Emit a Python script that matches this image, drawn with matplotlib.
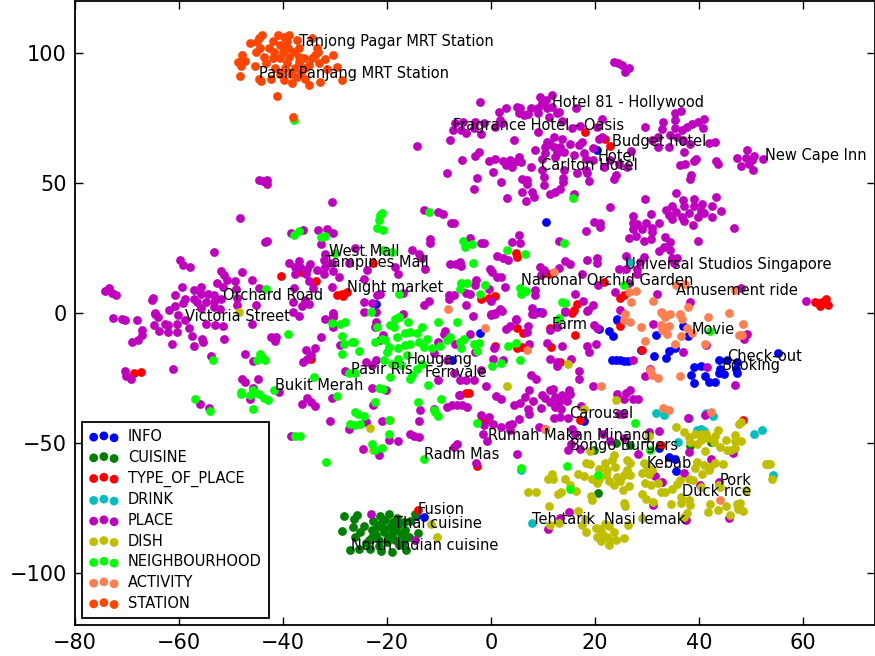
import matplotlib
matplotlib.use('Agg')
import matplotlib.pyplot as plt

# points, one list per entity type
info = [(-2.2,-7.8),(9.2,0.4),(20.7,-6.3),(22.6,-7),(23.4,-9),(24.2,-2.8),(36.9,-5),(37.8,-8.8),(31.8,-8.7),(28.9,-14.1),
    (31.4,-16.7),(34.2,-14.7),(35.3,-13.7),(33.6,-17.3),(23.3,-18.3),(24.1,-18.3),(24.9,-18.3),(25.5,-18.4),(26.3,-18.5),
    (39,-20.8),(40.3,-20.5),(38.5,-23.8),(39,-27),(41.1,-24.1),(41.9,-26.5),(43.1,-26.5),(43.8,-18.2),(44.1,-21.4),(43.8,-23.3),
    (44.9,-23.6),(45.4,-18.2),(47.3,-18.8),(47.1,-21.4),(47.4,-23.1),(55.1,-15.4),(17.9,-41.5),(32.4,-51.8),(34.3,-55.4),
    (35.3,-56),(35.6,-60.9),(-7.5,-18),(-22.2,3.5),(-14.4,-78.2),(-12.8,-78.3),(10.6,35),(20.4,62.6),(24.2,-2.2)]

cuisine = [(-28.2,-78.2),(-26.4,-79.1),(-25.8,-77.8),(-26.6,-82.3),(-28.7,-84),(-27.1,-91),(-24.4,-81.9),(-25.1,-84.2),
    (-26.1,-86.2),(-22.6,-80),(-21.3,-78.2),(-19.7,-77.2),(-18.1,-78.7),(-22.9,-83.6),(-21.3,-81),(-20.3,-79.7),(-19.4,-82.3),
    (-17.8,-81.7),(-16.8,-80.4),(-15.5,-80),(-22.2,-85.5),(-20.6,-84.2),(-19,-85.1),(-17.4,-84.9),(-16.5,-83.6),(-14,-84.6),
    (-23.5,-87.4),(-21.6,-87.4),(-20,-88),(-18.4,-87.4),(-16.8,-86.8),(-25.4,-90.6),(-23.2,-90.6),(-21.1,-91.5),(-19,-91.8),
    (-16.3,-91.3),(-17.7,-89.4),(-14.6,-77.4),(20.5,-69.2),(24,-49.9),(26.8,-50.9),(19.9,-52.8),(38.3,-51.3),(42.4,-49.7),
    (-22,-82.5),(-20.8,-82.8),(-18.8,-80.5),(-19.8,-86.5),(-18.2,-83.5),(-21.5,-89.5),(-24,-88.5),(-22.8,-86.2),(-17,-88.5),(-15.8,-86)]

type_of_place = [(-40.3,14.1),(-36.5,15.8),(-33.7,12.3),(-22.6,19.2),(-29.6,7),(-28.7,7.2),(-28.4,6.4),(-27.6,8.1),
    (18.1,69.5),(21.9,66.7),(22.9,64.2),(4.9,23.2),(5,21.3),(11.1,15.1),(-1.9,5.3),(-0.4,5.9),(0.8,6.3),(24.9,5.8),(25.6,6.8),
    (16.5,3.3),(15.9,1),(15.6,0.1),(62.4,4.2),(63,3.8),(63.2,2.6),(64.5,5.3),(64.9,2.9),(63.7,4.2),(-68.7,-23.3),(-67.4,-22.9),
    (-34.7,-17.9),(-5.9,-31.4),(-4.9,-31),(-4.3,-31),(-14,-75.9),(5,-6),(6.2,-7.7),(11.4,-6),(16.2,-8.7),(24.9,-5),(0.8,-12.7),
    (5,-13.7),(5.9,-13.3),(11.6,-13),(13.2,-18.8),(29,-14.1),(-1.7,-40.6),(-0.9,-41),(10.3,-44.7),(17.2,-41.3),(-2.7,-59),
    (32.7,-50.9),(48.5,-41.3),(21.7,12)]

drink = [(26.8,19.6),(31.8,-38.5),(33.2,-39.4),(41.3,-38.5),(42.6,-39.8),(39.6,-44.9),(40.3,-44.5),(40.9,-45.4),(36,-49.7),
    (50.6,-46.5),(52.1,-44.9),(54.2,-62.4),(7.8,-80.8),(5.8,-60.3),(38,-40.6)]

place = [(-14.2,64.1),(-7.9,66.4),(-7.4,70.3),(-7,72.8),(-5.4,73.5),(-5.7,70.3),(-4.9,69),(-5.6,58.7),(-8.4,53.8),
    (-44.7,50.9),(-43.8,50.6),(-43.1,51),(-43.1,49.5),(-30.6,42.8),(-48.3,36.5),(-12.9,39.7),(-10.1,38.6),(-9.2,38),(-7.6,34.4),
    (-7.1,34.7),(-38.5,30.6),(-36.1,31.7),(-33.2,31.7),(-31.6,32.3),(-30.4,30.6),(-43.4,27.4),(-43,27.6),(-32.6,26.4),(-11.7,28.5),
    (-11.7,26.7),(-53.3,23.3),(-59.8,20.3),(-59.3,18.3),(-57.8,17.7),(-26.2,25),(-31.9,22.8),(-15.2,24.2),(-13.8,22.8),(-13.3,20.9),
    (-7.8,18.6),(-6.7,18.7),(-5.9,19.6),(-5.7,18.1),(-38.8,19),(-36.9,20),(-37.7,17.7),(-36.7,17.7),(-34.8,18.6),(-35.4,17),
    (-37.7,15.1),(-35.5,15.1),(-33.5,16.3),(-32.2,15.1),(-31.9,17.7),(-30.6,19),(-30.3,16.2),(-29.3,13.6),(-35,12.3),(-34.3,9.6),
    (-32.2,20.3),(-27.4,19),(-23.9,16.4),(-24.5,13.2),(-18.5,17.7),(-17.9,15.1),(-12.6,16.8),(-51.9,15.9),(-51.4,14.5),(-50.8,12.6),
    (-49.2,12.3),(-52.6,11.3),(-51.5,10),(-47.9,15.6),(-46,12.6),(-44.7,9.5),(-74.2,8.3),(-73.5,9.7),(-72.8,7.7),(-72.2,7),
    (-65,5.9),(-65.1,5.1),(-60.7,6.9),(-59.4,10.1),(-57.2,8.7),(-55.7,10.1),(-58.8,5.5),(-59.3,3.8),(-57.2,5.5),(-55.7,7.4),
    (-54.4,7.2),(-53.3,6.8),(-56.5,4.2),(-54.9,4.2),(-53.3,4.2),(-51.9,5.5),(-49,9),(-48.9,5.8),(-60.8,2.6),(-61.9,1),(-55.7,1.7),
    (-53.3,2.3),(-52.1,1.3),(-45.2,3),(-48.9,3.2),(-37.9,9.7),(-38,4.2),(-36.4,2.6),(-35.8,4.9),(-35,3.3),(-38,0.3),(-36.9,-1.3),
    (-64.6,0),(-64.1,-1.5),(-30.5,10),(-24.5,4.2),(-22.8,3.6),(-24.5,0.3),(-22.1,0.3),(-21.9,6.8),(-21.3,7.4),(-16.9,7.7),(-12.9,3),
    (-11.9,4.6),(-8,6.8),(-8,5.3),(-7.2,6.9),(-4.8,7.7),(-4.8,3),(-30.4,0),(-30.4,-1.5),(-31.9,-2.2),(-17,-0.6),
    (-72.6,-1.8),(-71,-2.2),(-70.3,-2.6),(-68.1,-2.8),(-64.6,-0.5),(-64.9,-4.7),(-63.8,-6.9),(-62.7,-4.1),(-62.1,-4.7),(-60.4,-4.1),
    (-58.8,-2.8),(-60.1,-0.9),(-60.3,-7.3),(-62.2,-7.3),(-58.1,-6),(-54.9,-4.1),(-53,-4.7),(-51.5,-5.1),(-46,-4.4),(-57.5,-9),
    (-55.6,-9.9),(-55.3,-11.2),(-51.4,-10.1),(-42.4,-9.2),(-41.4,-9.2),(-41.6,-10.9),(-67.1,-6.7),(-67.2,-8.6),(-69,-11.2),(-67.8,-10.5),
    (-61.3,-12),(-57.2,-12.6),(-70.3,-22.4),(-70.1,-24.4),(-69.3,-25.6),(-61.2,-21.7),(-53.8,-16.4),(-47.4,-15.9),(-45.8,-18.6),
    (-47.9,-25.3),(-47.4,-26.5),(-44.9,-25.6),(-55.9,-34.9),(-54.3,-36.4),(-38.5,-47.3),(-45.8,-28.7),(-40.8,-30.6),(-46.3,-33.3),
    (-32.7,-9.2),(-35.6,-14.4),(-33.9,-13.5),(-36.2,-18.8),(-35.4,-17.6),(-34.6,-16.3),(-30.3,-0.9),(-30.4,-5.4),(-29,-12.2),
    (-36.3,-34.9),(-35.4,-32.6),(-34.7,-34.2),(-33.8,-36),(-30.6,-32.6),(-30.9,-41.7),(-27.4,-44.5),(-24.6,-52.4),(-22.2,-3.5),
    (-22.4,-5.4),(-20.8,-8.6),(-21.3,-10.5),(-24,-18.8),(-22.2,-18.2),(-22.9,-20.1),(-28,-22.4),(-22.9,-28.8),(-20.1,-29.7),
    (-22.6,-35.5),(-24,-41.9),(-21,-41.7),(-19.7,-49),(-17.9,-49.2),(-21.6,-54.5),(-15.6,-46.7),(-13.9,-47.7),(-14.8,-47.2),
    (-13.8,-41.7),(-13.6,-37.2),(-11,-36.8),(-8.5,-36.2),(-7.5,-35.5),(-6.5,-35.5),(-5.6,-35.5),(-4.6,-36.2),(-6.5,-50.6),(-7.2,-51.5),
    (-14.6,-87.4),(-23,-77.3),(-8.8,-6.9),(-10.1,-11.2),(-11,-15.6),(-10.1,-25.9),(-8.5,-18.2),(-7.2,-23.3),(-6.2,-31.7),(-4.9,-25.9),
    (-9,-8),(-7,-12),(-4,-8),(-3,-15),(-2,-22),(-6,-26),(-1,-28),
    (0,-0.8),(0.8,-0.3),(2.1,0.6),(4.8,-2.8),(7.9,-0.3),(9.8,0),(14.3,0.4),(18.5,0.8),(7.2,-5),(6.9,-7.3),(2.8,-6.3),(3.7,-5.1),
    (0.6,-13.7),(7.4,-12),(11.3,-6.7),(12.7,-5.6),(19.9,-4.7),(20.4,-6),(31.2,-4.4),(10.8,-11.5),(13.7,-12.8),(18.5,-12.8),(20.1,-11.8),
    (18.8,-15),(11.4,-17.8),(12.7,-20.4),(12.6,-18.8),(15.4,-17.6),(0.4,-17.6),(2.3,-18.2),(-3.3,-25.9),(17,-22.4),(17,-25.3),(7.6,-24),
    (8.7,-25.6),(27.3,-18.3),(37,-15),(30.5,-21.4),(29.6,-24.2),(41.5,-20.8),(41.4,-12.4),(46.9,-27.8),(49.2,-8.2),(48.7,-9.9),
    (1,-31.9),(1.9,-33),(4.5,-35.5),(5.6,-34.5),(6.6,-32.3),(7.4,-29.7),(8.1,-33.8),(7.1,-36.8),(7.4,-39),(5.3,-40.9),(9.8,-31.7),
    (9.7,-36.5),(11.4,-29.7),(12,-29.1),(10.4,-32.9),(11.4,-34.2),(12.4,-32.3),(13,-34.2),(13.7,-31.4),(12.4,-36.2),(13.4,-37),
    (15,-29.7),(15.1,-31.3),(14.6,-33.8),(19.7,-28.2),(12.2,-40.3),(13.2,-40),(14.9,-40.3),(17.4,-35.8),(24.2,-31.3),(25.5,-33),
    (26,-31),(26.8,-29.7),(27.4,-33),(28.3,-33.2),(24.7,-39),(25.4,-38.7),(-2,-39.4),(-0.4,-40),(-1.3,-43.2),(0.4,-42.6),(1.9,-43.8),
    (3.4,-43.2),(4,-42.6),(3.6,-44.9),(9.2,-43.8),(15.6,-44.5),(16.2,-46.4),(21.5,-46.7),(-1.5,-46.7),(-0.8,-49.2),(15.3,-50.3),
    (14.9,-52.8),(17.2,-52.2),(22.9,-49.2),(25.5,-48.3),(30.4,-45.8),(32.3,-45.3),(28.2,-54.4),(38,-53.5),(37.8,-40.4),(41.1,-39.2),
    (42.4,-56.3),(46.5,-53.8),(37.2,-61.4),(31.5,-62.7),(32.8,-65),(40.1,-66.3),(43.8,-65),(45.7,-78.8),(37.5,-79.5),(31.2,-73.7),
    (15,-76.5),(13.3,-78.8),(11,-83.2),(5,-54.2),(-2.9,-57.6),
    (23.7,96.3),(24.5,95.9),(25.2,95.3),(26.5,94.1),(25.7,92.7),(-2.2,81),(2.8,78.8),(1.5,77.3),(5,79),(5.6,78.6),(5.3,76.9),(6.3,76),
    (7.2,76.3),(7.6,78.8),(9,78.6),(9,76.9),(9.5,83),(10.5,81.8),(11.7,83.7),(9.8,80.5),(10.8,78.6),(11.7,79.2),(12.7,76.7),(11.1,75.4),
    (13,77.3),(16.4,78.6),(1.8,74),(-3,73.5),(-1.4,72.8),(2.1,72.8),(-3.2,70.9),(-1.9,68.7),(0.8,71.5),(15.6,70.9),(17.2,71.8),(21.3,74.7),
    (20.4,71.5),(9.1,69.6),(4.4,66.3),(13.7,73.8),(29.7,71.5),(33.1,73.5),(32.9,70.5),(35.3,77),(36.5,77.7),(35.3,74),(40.9,74.4),
    (39.9,73.5),(38.6,72.6),(37.6,71.5),(40.7,70.9),(36.7,70.3),(35.3,70.9),(32.2,67.7),(31,66.4),(34.5,68.3),(35.8,67.7),(37,66.4),
    (38.3,65.1),(32.2,63.8),(34.3,63.8),(37.2,61.9),(41.9,65.4),(43,65.5),(26.9,62.3),(39.5,59),(39,58.5),(36.4,56.8),(37.4,57.4),
    (43.3,58.3),(43.7,57.4),(49.2,62.7),(47.3,59.6),(49.1,59.4),(50.6,60.3),(50.1,58.7),(52.4,59),(49.6,57.4),(48,56.5),(50.3,55.1),
    (38.5,52.9),(38.3,51.3),(20.7,66.7),(21.3,67.7),(17.5,65.8),(16.9,64.5),(19.7,63.2),(10.8,65.8),(12.1,67.7),(13.7,66.7),(15.1,65.1),
    (11.4,65.1),(10.3,63.8),(12.1,63.8),(13.3,63.8),(8.5,62.6),(10.4,61.3),(12.7,61.3),(14,61.9),(15.9,60.6),(17.8,61.5),(9.8,59),
    (12.4,60),(18.2,59),(19.7,58.7),(21.7,56.2),(22.9,58.7),(24.6,57.4),(26.2,56.2),(18.2,54.9),(18.5,53.6),(16.5,53.8),(14,54.9),
    (9.8,54.9),(10.1,52.3),(10.1,49.1),(13.8,51.7),(13.9,50.4),(18.8,50.8),(24,52.9),(23.6,51.4),(7.6,56.2),(-0.3,58.3),(0.8,59.1),
    (2.4,58.3),(3.7,58.7),(2.8,56.8),(4,56.2),(5.3,60),(5,58.3),(5.8,58.1),(-2.4,61.9),(-3,60.3),(0.4,54.1),(-2.7,52),(1.9,50.3),
    (5.9,51.4),(6.9,51),(6.9,49.5),(-3.3,47.6),(5.9,46.5),(7.9,46.3),(8.2,44.6),(6.7,42.9),(3.1,44.1),(11.4,45.5),(12.4,46.5),(13.2,47.6),
    (16,45.6),(29.6,43.8),(35.6,46.2),(43.3,44.6),(34.9,41.2),(33.7,39.7),(36.9,43.3),(37.1,41),(39.1,43.7),(40.6,42),(39.1,41),
    (42.5,41.2),(44.2,39.2),(35.5,38.6),(34.2,37.6),(34.8,35.9),(36.7,36.9),(37.1,35.3),(38.1,38.5),(40.3,39.2),(40.9,38.2),(39.9,36.7),
    (42.5,36.9),(38.9,33.6),(46.7,32.6),(30.7,38.1),(32.3,34.7),(27.4,37.2),(27.3,34.4),(28.1,34.1),(29.9,34.4),(27.4,32.1),(29,32.4),
    (31,32.7),(31,30.9),(27.9,29.7),(26.5,28.7),(29.4,27.8),(30.7,28.5),(33.5,29.1),(34.4,27.4),(39.8,27.7),(22.9,40.5),(19.9,35.1),
    (21,34.6),(21,33.1),(18.3,31.5),(13.1,27.8),(32.3,23.8),(33.2,25.4),(34.4,24.1),(26,21.9),(29.4,21.3),(28.7,19.6),(34.8,20.9),
    (35.8,20.9),(24.7,16.8),(25.9,17),(28.1,17),(28.1,15.1),(26.5,11.3),(35.1,19),(5.3,30),(4,27.4),(5.6,26.7),(-2,26.7),(-1.3,26.9),
    (-4,28.6),(1.2,21.7),(2.4,21.2),(3.2,20.5),(-0.1,16.7),(0.2,15.8),(1.1,13.8),(1.9,13.8),(2.6,10),(-2.8,12.8),(-3,10.6),(-0.4,9.1),
    (-4,7.4),(0,4.5),(8.5,8.7),(8.5,6.8),(9.5,17.7),(10.1,16.4),(13,17.4),(14.2,19.9),(15.1,18.7),(18.5,20.3),(20.4,20.9),(20.3,19),
    (17.5,15.1),(9.6,14.5),(20.5,10.6),(23.9,8.1),(16.2,7.3),(17.6,4.6),(19.6,3.1),(18.6,1),(14.3,0.8),(7.9,1.7),(8.2,-0.6),(9.8,0.4),
    (1.8,1.3),(0,-0.6),(0.8,0),(4.8,-2.4),(-3.5,-1.3),(31.9,7.2),(38.3,4),(48,9.7),(60.6,4.7),(24.9,1)]

dish = [(-48.5,0.3),(-23.2,-44.3),(-19.4,-41),(-22.6,-52.6),(-11.5,-81.3),(-10.4,-86.2),(14.8,-19.5),(3.1,-28.1),(24,-33.5),(17.9,-36.9),
    (35.6,-43.7),(37.2,-45.8),(38,-47.7),(39.3,-46.7),(40.3,-46.7),(41.4,-46.4),(43.6,-44.9),(47.6,-42.6),(48.1,-42),(30.3,-47.3),
    (43.1,-47.4),(47,-47),(45.1,-49),(38.3,-49.6),(39.6,-50.3),(40.3,-49),(41.5,-48.3),(42.8,-49.6),(48.1,-49.4),(47,-49.2),(44,-51.5),
    (45.4,-52.6),(47,-51.9),(46.2,-52.8),(41.2,-53.1),(19.1,-53.2),(23.6,-54.7),(23.3,-56.6),(26.2,-56.6),(26.8,-57.9),(18.3,-57.7),
    (19.1,-58),(22,-57.7),(23.9,-59.2),(20.7,-59.9),(29.4,-57.9),(30,-59.2),(29.1,-61.5),(30.3,-61.8),(31,-60.5),(26.2,-60.5),(25.5,-62.4),
    (26.8,-62.4),(22.3,-60.5),(22.1,-62.4),(24.2,-63),(39.6,-57.3),(39.3,-59.5),(40.9,-58.6),(40.6,-61.8),(41.9,-60.5),(43.1,-57.9),
    (44.6,-58.2),(42.2,-59.2),(52.8,-58.2),(53.7,-58.2),(53.2,-58.2),(54,-63.8),(11.7,-61.8),(10.9,-64),(12,-63.7),(14.3,-63.7),(16.7,-61.8),
    (17.8,-62.6),(19.4,-63.7),(20.7,-63.7),(20.3,-65.6),(22.6,-64.6),(23.7,-66.3),(24.9,-64.6),(26.5,-66.5),(25.3,-68.2),(29.7,-65.6),
    (30.8,-66.3),(32.1,-65.3),(29,-69.5),(29.9,-71.7),(31.2,-72.7),(36.3,-64.4),(35.8,-65.9),(34.8,-67.8),(32.6,-69),(33.5,-68.8),(38,-63.7),
    (38.8,-64.4),(36.6,-70.8),(34.7,-73.3),(36.5,-73.1),(38,-72),(38.2,-74),(42.2,-73.5),(41.8,-76.4),(43.7,-75.9),(45.1,-74.2),(43.8,-66),
    (44.1,-66.9),(40.3,-66.9),(49.1,-68.2),(47.3,-73.3),(47.9,-73.1),(47.5,-75.3),(48.4,-76),(46,-77.6),(7.1,-68.7),(8.7,-69),(12.8,-69.7),
    (13.5,-69),(16.3,-68.6),(15.1,-66.3),(19.2,-70.4),(19.4,-71.8),(11.2,-74.2),(25.5,-73.1),(25.8,-74.4),(16.7,-76.2),(11.3,-81.7),(13,-80.6),
    (17.5,-81.7),(18.1,-79.1),(26.3,-81.4),(29.1,-78.7),(37.1,-78.5),(37.7,-76.8),(20.1,-82.6),(21,-83),(22,-81),(22.6,-82),(18.3,-84.4),
    (20.3,-86.2),(21.3,-84.6),(23.6,-84.1),(21.2,-87.7),(22.3,-86.2),(22.6,-89.1),(22.9,-87.4),(24,-87.4),(25.5,-86.7)]

neighbourhood = [(-37.9,74),(-12,38.8),(-21.3,37.6),(-21.6,35.6),(-22,32.7),(-20.8,32),(-20.9,38.2),(-36.9,31.5),(-37.8,29.9),(-32.6,29),
    (-32,29.5),(-30,23.2),(-20.7,24.1),(-19.1,23.5),(-43.3,9),(-17.7,7.4),(-23,0.5),(-17.7,-1.5),(-5.4,27.8),(-5,25.4),(-5.8,11.3),(-4.6,11.3),
    (-6,9.1),(-3.7,26.3),(-3.5,19.2),(3.1,24.1),(6.5,22.6),(14.1,27),(15.7,44.2),(-1.2,10.8),(-2.2,7.4),(5.5,9.4),(5.8,7.4),(6.7,8.3),(13.7,4),
    (14.2,3.6),(25.6,10.6),(13.1,-2.2),(-39,-8),(-30.6,-3.8),(-29,-4.1),(-28,-3.7),(-28.7,-9),(-28.3,-11.8),(-26.7,-11.2),(-26.3,-11.2),
    (-25.3,-14.5),(-28.7,-15.8),(-22.4,-11.2),(-21.9,-5.4),(-19.4,-4.7),(-18.4,-2.2),(-17.6,-1.5),(-16,-3.5),(-13.3,-5.4),(-18.7,-5.4),(-18.1,-9.2),
    (-15.5,-7.3),(-16.5,-7.9),(-14.2,-7.9),(-12.3,-9.9),(-10.1,-3.5),(-6.5,-3.5),(-21,-9.9),(-20.4,-10.5),(-19.7,-13),(-20,-15),(-17.8,-13.7),
    (-16.5,-12.4),(-15.5,-11.8),(-13.9,-11.2),(-12.9,-13),(-11.3,-13.7),(-9.9,-12.8),(-7.9,-9.2),(-8.5,-10.5),(-5.9,-11.2),(-5.2,-9.9),(-5.8,-13.7),
    (-20.6,-18.2),(-17.8,-17.6),(-16.2,-16.3),(-19,-19.5),(-17.4,-20.1),(-13.3,-19.5),(-14.2,-21.4),(-15.2,-24),(-15.5,-25.6),(-19.4,-24.6),
    (-12.1,-27.8),(-27.4,-23.3),(-26.1,-23.3),(-34.1,-24.6),(-21.6,-28.8),(-20.8,-29.1),(-22.4,-34.2),(-14,-34.2),(-9.7,-33.3),(-11,-37.2),
    (-10.7,-38.2),(-10.1,-39.5),(-29.6,-32),(-26.1,-38),(-25.5,-39),(-24.5,-39.7),(-27.2,-42.6),(-26.1,-43.2),(-25.1,-42.6),(-19.7,-41),(-19.7,-46.7),
    (-22.9,-50.6),(-22.4,-52.6),(-21,-52),(-31.7,-57.3),(-12.9,-56.3),(-37.6,-47.2),(-36.7,-47.2),(-53.5,-18),(-44.4,-16),(-44.1,-16.9),(-45,-18.2),
    (-43.5,-18.2),(-41.7,-29.5),(-48,-30.4),(-48,-31.3),(-45.8,-29.7),(-45.4,-31),(-46.3,-31.7),(-44.7,-31.3),(-43.7,-32.6),(-42.8,-33.6),(-45.7,-36.9),
    (-57,-33.3),(-54,-37.7),(-3.3,-11.8),(-2.4,-11.4),(-2.6,-14.7),(3.3,-12.7),(4.9,-11.4),(5.6,-18.3),(0.2,-20.5),(2,-19.1),(-2.7,-42.2),(27.6,-42.2),
    (5.8,-59.5),(14.7,-58.7),(20.5,-62.2),(15.1,-67.6),(42.2,-6.9),(13.1,-1.9),(30.6,-52.8)]

activity = [(12.2,15.8),(26.5,8.1),(27.9,8.3),(26.9,4),(31.1,4.5),(37.8,2.2),(35.6,10.6),(37.4,11),(47,8.7),(32.6,0.4),(33.1,-0.5),(34.5,-0.5),
    (36.4,-0.5),(25.8,-0.5),(41.7,-1.5),(45.7,0.1),(-8.2,1.4),(-1.1,-6),(26.8,-3.7),(25.5,-2.8),(28.9,-5.6),(32.9,0),(33.5,-1.5),(36.4,-0.9),
    (36.7,-2.2),(32.7,-4.7),(34.3,-5),(32.9,-6.7),(33.8,-8.2),(36.5,-9),(37.7,-6),(38.7,-7.9),(48.4,-4.4),(47.6,-8.6),(48.3,-8.6),(29.6,-10.9),
    (35.3,-12),(41.1,-11.8),(6.9,-14.4),(30.6,-22),(31,-24),(32.2,-25),(36.4,-24.2),(21.1,-28),(33,-36.5),(34.3,-37.2),(42.4,-38.1),(44,-71.8),(10.3,-44.7)]

station = [(-46.3,103.6),(-44.7,105.5),(-44.1,106.8),(-45,104),(-41.9,104.4),(-41,107),(-39.9,106),(-38.8,107),(-39.3,104.6),(-37.4,105),(-34.4,105.8),
    (-39.9,102),(-39,101.7),(-44.4,102),(-45.2,100.4),(-42.7,101.7),(-41.7,100.4),(-40,100.4),(-37.9,100.4),(-33.5,101.7),(-33.2,100.4),(-33.8,99),
    (-30.3,99),(-47.8,99),(-43.6,98.5),(-42,97.8),(-40.5,97.8),(-38.9,98.5),(-37,98.5),(-36,97.8),(-34.5,97.8),(-32,97.6),(-48.6,96.5),(-47.3,97),
    (-43.2,96),(-39.3,96),(-37,96.5),(-35,95.3),(-33,96),(-48,95),(-45.4,94.9),(-41.5,94),(-39.6,94),(-37.7,94),(-35.8,94),(-31.6,93.7),(-29.7,94.6),
    (-48.3,90.9),(-44.7,90),(-44.2,89),(-42.3,89.9),(-39.9,89.5),(-38.2,88.3),(-37.4,90.8),(-35.7,90),(-35,87.6),(-32.8,88.8),(-28.6,89.5),(-41.2,83.2),
    (-38.1,75.3),(-40.5,103),(-37,102),(-38.5,92),(-36.5,92.5),(-40.5,92)]

series_names = ['INFO', 'CUISINE', 'TYPE_OF_PLACE', 'DRINK', 'PLACE', 'DISH', 'NEIGHBOURHOOD', 'ACTIVITY', 'STATION']
series_points = [info, cuisine, type_of_place, drink, place, dish, neighbourhood, activity, station]
series_colors = ['b', '#008000', 'r', '#00bfbf', '#bf00bf', '#bfbf00', '#00ff00', '#ff7f50', '#ff4500']

label_names = ['Tanjong Pagar MRT Station', 'Pasir Panjang MRT Station', 'Hotel 81 - Hollywood', 'Fragrance Hotel - Oasis', 'Budget hotel',
    'Hotel', 'Carlton Hotel', 'New Cape Inn', 'West Mall', 'Tampines Mall', 'Night market', 'Orchard Road', 'Victoria Street',
    'Universal Studios Singapore', 'National Orchid Garden', 'Amusement ride', 'Farm', 'Movie', 'Check-out', 'Booking', 'Hougang', 'Fernvale',
    'Pasir Ris', 'Bukit Merah', 'Radin Mas', 'Carousel', 'Rumah Makan Minang', 'Bongo Burgers', 'Kebab', 'Pork', 'Duck rice', 'Teh tarik',
    'Nasi lemak', 'Fusion', 'Thai cuisine', 'North Indian cuisine']
label_x = [-37, -44.6, 11.7, -7.4, 23.3, 20.6, 9.7, 52.6, -31.2, -31.9, -27.6, -51.5, -58.8, 25.8, 5.8, 35.6, 11.6, 38.5, 45.5, 44.4, -16.3, -12.8,
    -26.9, -41.6, -12.8, 15, -0.5, 15.2, 29.9, 44, 36.8, 7.9, 21.7, -14.2, -18.7, -26.9]
label_y = [102.6, 90.3, 79, 70.3, 64.1, 58.5, 54.9, 58.7, 21.8, 17.5, 8.1, 5, -3.1, 16.7, 10.6, 6.8, -6.3, -8.3, -18.5, -21.8, -19.5, -24.8,
    -23.7, -29.7, -56, -40.4, -48.7, -52.8, -59.8, -66.3, -70.5, -81, -81.3, -77.5, -82.9, -91.3]

fig = plt.figure(figsize=(8.75, 6.56), dpi=100)
ax = fig.add_axes([75 / 875, 31 / 656, 800 / 875, 624.3 / 656])

for name, pts, col in zip(series_names, series_points, series_colors):
    xs = [p[0] for p in pts]
    ys = [p[1] for p in pts]
    ax.scatter(xs, ys, s=40, c=col, linewidths=0, label=name)

for name, x, y in zip(label_names, label_x, label_y):
    ax.text(x, y, name, fontsize=10.5, color='black', va='baseline', ha='left')

ax.set_xlim(-80, 73.85)
ax.set_ylim(-120, 120)
ax.set_xticks([-80, -60, -40, -20, 0, 20, 40, 60])
ax.set_yticks([-100, -50, 0, 50, 100])
ax.tick_params(direction='in', length=6, width=1, top=True, right=True, labelsize=15, pad=6)
for s in ax.spines.values():
    s.set_linewidth(1.3)

leg = ax.legend(loc='lower left', bbox_to_anchor=(7 / 800, 7 / 624.3), bbox_transform=ax.transAxes, borderaxespad=0, scatterpoints=3,
                fontsize=10.5, fancybox=False, framealpha=1, edgecolor='black', labelspacing=0.39, handletextpad=0.65, borderpad=0.5)
leg.get_frame().set_linewidth(1.3)

plt.savefig('out.png', dpi=100)
